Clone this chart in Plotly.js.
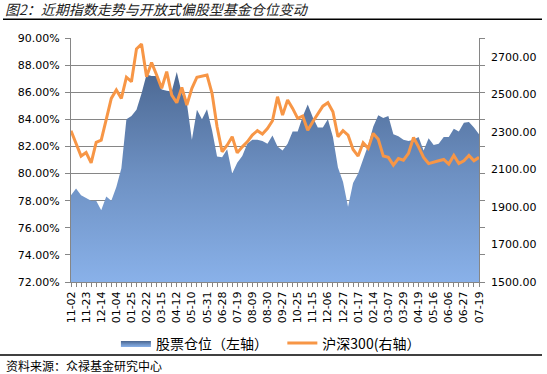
<!DOCTYPE html>
<html>
<head>
<meta charset="utf-8">
<script src="https://cdn.plot.ly/plotly-3.0.1.min.js"></script>
<style>html,body{margin:0;padding:0;background:#fff;}#chart{width:547px;height:374px;}</style>
</head>
<body>
<div id="chart"></div>
<script>
// Weekly dates (category axis)
const dates = [
"2012-11-02","2012-11-09","2012-11-16","2012-11-23","2012-11-30","2012-12-07","2012-12-14","2012-12-21","2012-12-28",
"2013-01-04","2013-01-11","2013-01-18","2013-01-25","2013-02-01","2013-02-08","2013-02-22","2013-03-01","2013-03-08",
"2013-03-15","2013-03-22","2013-03-29","2013-04-12","2013-04-19","2013-04-26","2013-05-10","2013-05-17","2013-05-24",
"2013-05-31","2013-06-07","2013-06-21","2013-06-28","2013-07-05","2013-07-12","2013-07-19","2013-07-26","2013-08-02",
"2013-08-09","2013-08-16","2013-08-23","2013-08-30","2013-09-06","2013-09-13","2013-09-27","2013-10-11","2013-10-18",
"2013-10-25","2013-11-01","2013-11-08","2013-11-15","2013-11-22","2013-11-29","2013-12-06","2013-12-13","2013-12-20",
"2013-12-27","2014-01-03","2014-01-10","2014-01-17","2014-01-24","2014-02-07","2014-02-14","2014-02-21","2014-02-28",
"2014-03-07","2014-03-14","2014-03-21","2014-03-29","2014-04-04","2014-04-11","2014-04-19","2014-04-25","2014-05-09",
"2014-05-16","2014-05-23","2014-05-30","2014-06-06","2014-06-13","2014-06-20","2014-06-27","2014-07-04","2014-07-11",
"2014-07-19"
];
// 股票仓位 (%), left axis
const position = [
78.4,78.9,78.4,78.2,78.0,78.0,77.3,78.3,78.0,79.0,80.4,84.0,84.25,84.7,85.9,87.3,87.2,87.2,
86.2,86.1,86.05,87.5,85.9,85.2,82.5,84.7,84.0,84.75,83.2,81.25,81.2,81.8,80.0,80.8,81.3,82.2,
82.5,82.5,82.4,82.2,82.8,82.0,81.7,82.2,83.1,83.1,84.2,85.1,84.15,83.4,83.4,84.0,82.7,80.45,
79.4,77.55,79.3,80.0,81.0,82.1,83.45,84.3,84.1,84.25,82.9,82.75,82.5,82.4,82.5,82.7,81.7,82.6,
82.1,82.2,82.7,82.7,83.3,83.1,83.75,83.8,83.4,82.9
];
// 沪深300, right axis
const hs300 = [
2306,2238,2171,2190,2135,2244,2256,2366,2478,2523,2478,2591,2567,2742,2768,2594,2669,2603,
2532,2621,2496,2455,2537,2443,2532,2591,2598,2603,2505,2327,2194,2229,2274,2188,2220,2247,
2283,2306,2288,2318,2359,2487,2389,2470,2425,2372,2384,2309,2354,2398,2437,2455,2407,2274,
2306,2283,2206,2171,2242,2212,2292,2260,2171,2164,2123,2158,2149,2185,2270,2220,2164,2131,
2140,2146,2153,2128,2174,2131,2146,2174,2146,2164
];
const tickText = dates.map((d, i) => (i % 3 === 0 ? d.slice(5) : ""));

const axisGray = "#868686";
const tickFont = {family: "DejaVu Sans, Verdana, sans-serif", size: 11, color: "#000"};

const traces = [
  {
    type: "scatter", mode: "lines", name: "股票仓位（左轴）\u00a0\u00a0\u00a0",
    x: dates, y: position, yaxis: "y",
    line: {width: 0, color: "#6f93c5"},
    fill: "tozeroy",
    fillcolor: "#6f93c5",
    fillgradient: {type: "vertical", start: 72, stop: 88,
      colorscale: [[0, "#89b1e9"], [0.5, "#6d90c2"], [1, "#4a6690"]]},
    hoverinfo: "skip"
  },
  {
    type: "scatter", mode: "lines", name: "沪深300(右轴）",
    x: dates, y: hs300, yaxis: "y2",
    line: {width: 3, color: "#f79646"},
    hoverinfo: "skip"
  }
];

const layout = {
  width: 547, height: 374,
  margin: {l: 71, r: 68, t: 38, b: 92},
  paper_bgcolor: "#fff", plot_bgcolor: "#fff",
  showlegend: true,
  title: {
    text: "图2：近期指数走势与开放式偏股型基金仓位变动",
    font: {family: "Noto Sans CJK SC, sans-serif", size: 14, color: "#222", style: "italic"},
    x: 5/547, xanchor: "left", xref: "container",
    y: 1 - 10/374, yanchor: "middle", yref: "container"
  },
  xaxis: {
    type: "category",
    range: [0, dates.length - 1],
    tickmode: "array", tickvals: dates, ticktext: tickText,
    tickangle: -90,
    ticks: "outside", ticklen: 4, tickcolor: axisGray, tickwidth: 1,
    showline: true, linecolor: axisGray, linewidth: 1,
    showgrid: false, zeroline: false,
    tickfont: tickFont
  },
  yaxis: {
    range: [72, 90], dtick: 2, tick0: 72,
    tickformat: ".2f", ticksuffix: "%",
    showgrid: true, gridcolor: axisGray, gridwidth: 1,
    showline: true, linecolor: axisGray, linewidth: 1, mirror: "ticks",
    ticks: "outside", ticklen: 5, tickcolor: axisGray,
    ticklabelstandoff: 3,
    zeroline: false,
    tickfont: tickFont
  },
  yaxis2: {
    overlaying: "y", side: "right",
    range: [1500, 2800], dtick: 200, tick0: 1500,
    tickformat: ".2f",
    showgrid: false, zeroline: false, showline: false,
    ticks: "", ticklabelstandoff: 11,
    tickfont: tickFont
  },
  legend: {
    orientation: "h", x: 0.49, xanchor: "center", y: -0.252, yanchor: "middle",
    font: {family: "Noto Sans CJK SC, sans-serif", size: 14, color: "#000"},
    itemwidth: 30, tracegroupgap: 0, bgcolor: "rgba(0,0,0,0)"
  },
  annotations: [
    {
      text: "资料来源：众禄基金研究中心", xref: "paper", yref: "paper",
      x: (4 - 71) / 408, y: -(365 - 282) / 244, xanchor: "left", yanchor: "middle",
      showarrow: false,
      font: {family: "Noto Sans CJK SC, sans-serif", size: 12, color: "#000"}
    }
  ],
  shapes: [
    {type: "line", xref: "paper", yref: "paper",
     x0: (3 - 71) / 408, x1: (542 - 71) / 408, y0: (282 - 19.3) / 244, y1: (282 - 19.3) / 244,
     line: {color: "#000", width: 1.5}},
    {type: "line", xref: "paper", yref: "paper",
     x0: (0 - 71) / 408, x1: (542 - 71) / 408, y0: -(355 - 282) / 244, y1: -(355 - 282) / 244,
     line: {color: "#000", width: 1.5}}
  ]
};

Plotly.newPlot("chart", traces, layout, {staticPlot: true, displayModeBar: false});
</script>
</body>
</html>
